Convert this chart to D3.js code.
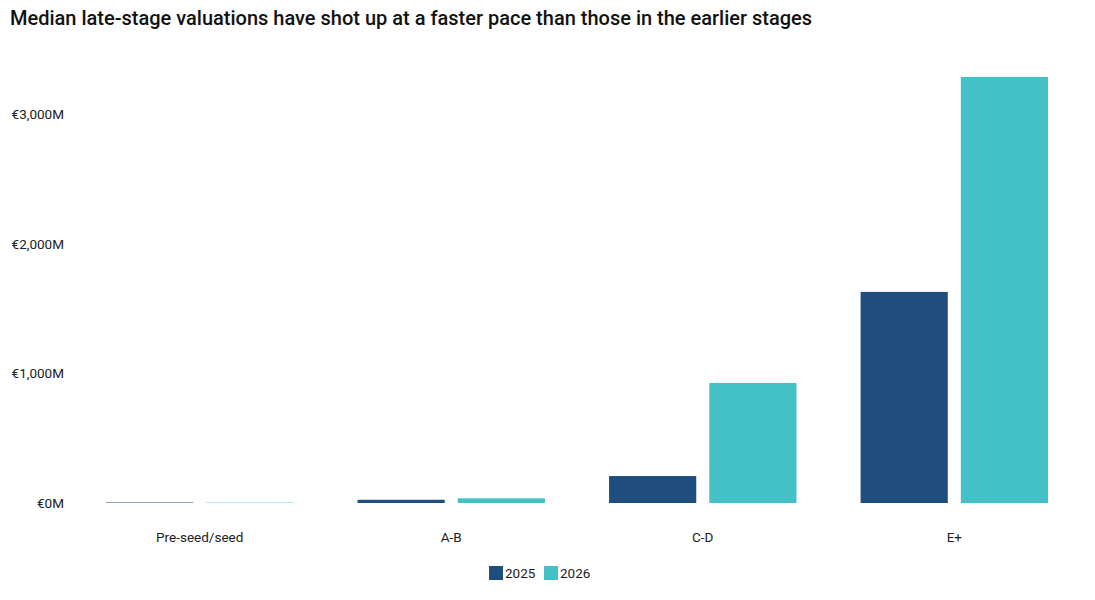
<!DOCTYPE html>
<html>
<head>
<meta charset="utf-8">
<script src="https://cdn.jsdelivr.net/npm/d3@7"></script>
<style>
  body { margin: 0; background: #fff; }
  .narrow { font-family: Roboto, "DejaVu Sans Condensed", sans-serif; }
</style>
</head>
<body>
<div id="chart"></div>
<script>
// Data (EUR millions)
const stages = ['Pre-seed/seed', 'A-B', 'C-D', 'E+'];
const years = ['2025', '2026'];
const values2025 = [4, 25, 208, 1630];
const values2026 = [3, 36, 927, 3290];
const yTicks = [0, 1000, 2000, 3000];
const colors = ['#1f4e7e', '#43c1c7'];

const width = 1095;
const height = 600;

const svg = d3.select('#chart')
  .append('svg')
  .attr('width', width)
  .attr('height', height);

// Title
svg.append('text')
  .attr('x', 10)
  .attr('y', 25)
  .attr('font-family', 'Roboto, sans-serif')
  .attr('font-weight', 500)
  .attr('font-size', '20px')
  .attr('fill', '#111')
  .text('Median late-stage valuations have shot up at a faster pace than those in the earlier stages');

// Scales
const x = d3.scaleBand()
  .domain(stages)
  .range([106, 1048])
  .paddingInner(0.255)
  .paddingOuter(0);

const xSub = d3.scaleBand()
  .domain(years)
  .range([0, x.bandwidth()])
  .paddingInner(0.13);

const y = d3.scaleLinear()
  .domain([0, 3000])
  .range([503, 114.5]);

// Y axis labels (no line)
const yAxis = svg.append('g')
  .attr('transform', 'translate(64,0)')
  .call(d3.axisLeft(y).tickValues(yTicks).tickSize(0).tickPadding(0)
    .tickFormat(d => '€' + d3.format(',')(d) + 'M'));
yAxis.select('.domain').remove();
yAxis.selectAll('text')
  .attr('class', 'narrow')
  .attr('font-size', '13.5px')
  .attr('fill', '#222');

// Bars
const rows = stages.map((s, i) => ({ stage: s, vals: [values2025[i], values2026[i]] }));

const groups = svg.selectAll('g.group')
  .data(rows)
  .enter()
  .append('g')
  .attr('class', 'group')
  .attr('transform', d => `translate(${x(d.stage)},0)`);

groups.selectAll('rect')
  .data(d => d.vals.map((v, j) => ({ year: years[j], value: v, j })))
  .enter()
  .append('rect')
  .attr('x', d => xSub(d.year))
  .attr('y', d => y(d.value))
  .attr('width', xSub.bandwidth())
  .attr('height', d => y(0) - y(d.value))
  .attr('fill', d => colors[d.j]);

// X axis labels
const xAxis = svg.append('g')
  .attr('transform', 'translate(0,532)')
  .call(d3.axisBottom(x).tickSize(0).tickPadding(0));
xAxis.select('.domain').remove();
xAxis.selectAll('text')
  .attr('class', 'narrow')
  .attr('font-size', '13.5px')
  .attr('fill', '#222');

// Legend
const legend = svg.append('g')
  .attr('transform', 'translate(489,566)');
const legendX = [0, 55];
years.forEach((yr, i) => {
  legend.append('rect')
    .attr('x', legendX[i])
    .attr('y', 0)
    .attr('width', 14)
    .attr('height', 14)
    .attr('fill', colors[i]);
  legend.append('text')
    .attr('class', 'narrow')
    .attr('x', legendX[i] + 16)
    .attr('y', 12)
    .attr('font-size', '13.5px')
    .attr('fill', '#222')
    .text(yr);
});
</script>
</body>
</html>
